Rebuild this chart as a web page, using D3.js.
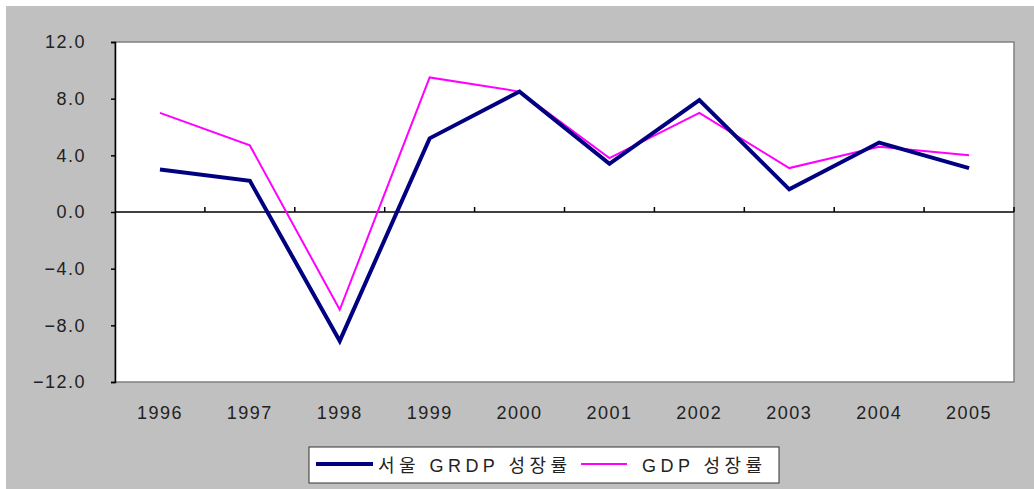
<!DOCTYPE html>
<html>
<head>
<meta charset="utf-8">
<script src="https://cdn.jsdelivr.net/npm/d3@7"></script>
<style>
  body { margin: 0; background: #fff; }
  text { font-family: "Liberation Sans", "Noto Sans CJK KR", sans-serif; fill: #222; }
</style>
</head>
<body>
<svg id="chart" width="1034" height="489"></svg>
<script>
// chart values
var years = ["1996","1997","1998","1999","2000","2001","2002","2003","2004","2005"];
var seoulGrdp = [3.0, 2.2, -9.1, 5.2, 8.5, 3.4, 7.9, 1.6, 4.9, 3.1];
var gdp = [7.0, 4.7, -6.9, 9.5, 8.5, 3.8, 7.0, 3.1, 4.6, 4.0];
var yTicks = [-12, -8, -4, 0, 4, 8, 12];
var seriesNames = ["서울 GRDP 성장률", "GDP 성장률"];

var svg = d3.select("#chart");

// grey chart background
svg.append("rect")
    .attr("x", 6).attr("y", 6)
    .attr("width", 1028).attr("height", 483)
    .attr("fill", "#c0c0c0");

var plotLeft = 115, plotRight = 1014, plotTop = 42, plotBottom = 382;

var xScale = d3.scaleBand()
    .domain(years)
    .range([plotLeft, plotRight]);

var yScale = d3.scaleLinear()
    .domain([-12, 12])
    .range([plotBottom, plotTop]);

// plot area
svg.append("rect")
    .attr("x", plotLeft).attr("y", plotTop)
    .attr("width", plotRight - plotLeft).attr("height", plotBottom - plotTop)
    .attr("fill", "#fff")
    .attr("stroke", "#808080")
    .attr("stroke-width", 1.5);

// y axis
var yAxis = svg.append("g")
    .attr("transform", "translate(" + plotLeft + ",0)")
    .call(d3.axisLeft(yScale)
        .tickValues(yTicks)
        .tickSize(4)
        .tickPadding(25)
        .tickFormat(function(d) { return d3.format(".1f")(d).replace("-", "\u2212"); }));
yAxis.select(".domain").attr("stroke", "#000").attr("stroke-width", 1.5);
yAxis.selectAll(".tick line").attr("stroke", "#000").attr("stroke-width", 1.5);
yAxis.selectAll("text")
    .attr("font-size", 18)
    .attr("font-family", "Liberation Sans, sans-serif")
    .style("letter-spacing", "1.5px")
    .attr("fill", "#222");

// x axis along zero line, ticks pointing up at category boundaries
var xAxis = svg.append("g")
    .attr("transform", "translate(0," + yScale(0) + ")");
xAxis.append("line")
    .attr("x1", plotLeft).attr("x2", plotRight)
    .attr("stroke", "#000").attr("stroke-width", 1.5);
xAxis.selectAll(".boundary")
    .data(years.slice(1).concat(["end"]))
    .enter().append("line")
    .attr("x1", function(d) { return d === "end" ? plotRight : xScale(d); })
    .attr("x2", function(d) { return d === "end" ? plotRight : xScale(d); })
    .attr("y1", 0).attr("y2", -5)
    .attr("stroke", "#000").attr("stroke-width", 1.5);

// category labels below the plot
svg.append("g").selectAll("text")
    .data(years)
    .enter().append("text")
    .attr("x", function(d) { return xScale(d) + xScale.bandwidth() / 2; })
    .attr("y", 419)
    .attr("text-anchor", "middle")
    .attr("font-size", 18)
    .style("letter-spacing", "1.5px")
    .text(function(d) { return d; });

var line = d3.line()
    .x(function(d, i) { return xScale(years[i]) + xScale.bandwidth() / 2; })
    .y(function(d) { return yScale(d); });

svg.append("path")
    .datum(gdp)
    .attr("d", line)
    .attr("fill", "none")
    .attr("stroke", "#ff00ff")
    .attr("stroke-width", 2);

svg.append("path")
    .datum(seoulGrdp)
    .attr("d", line)
    .attr("fill", "none")
    .attr("stroke", "#000080")
    .attr("stroke-width", 4);

// legend
var legend = svg.append("g");
legend.append("rect")
    .attr("x", 309).attr("y", 447)
    .attr("width", 470).attr("height", 36)
    .attr("fill", "#fff")
    .attr("stroke", "#333")
    .attr("stroke-width", 1);

var legendItems = [
  { name: seriesNames[0], color: "#000080", width: 4, x1: 316, x2: 373, tx: 378, len: 189 },
  { name: seriesNames[1], color: "#ff00ff", width: 2, x1: 581, x2: 627, tx: 642, len: 120 }
];
legendItems.forEach(function(item) {
  legend.append("line")
      .attr("x1", item.x1).attr("x2", item.x2)
      .attr("y1", 464).attr("y2", 464)
      .attr("stroke", item.color)
      .attr("stroke-width", item.width);
  legend.append("text")
      .attr("x", item.tx).attr("y", 472)
      .attr("font-size", 18)
      .attr("textLength", item.len)
      .attr("lengthAdjust", "spacing")
      .text(item.name);
});
</script>
</body>
</html>
